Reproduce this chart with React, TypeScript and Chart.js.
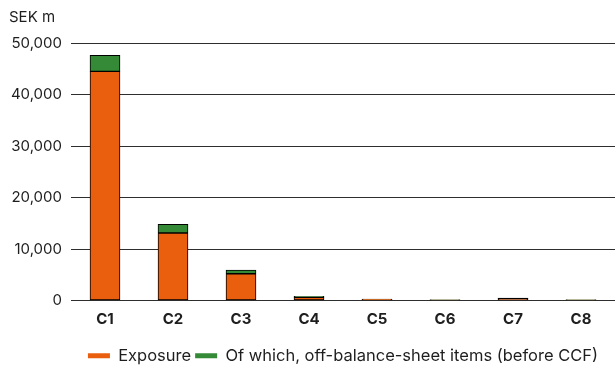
import React, { useEffect, useRef } from "react";
import { Chart, registerables } from "chart.js";

Chart.register(...registerables);

const categories = ["C1", "C2", "C3", "C4", "C5", "C6", "C7", "C8"];
const exposure = [44500, 13100, 5200, 600, 220, 110, 400, 110];
const offBalance = [3100, 1700, 700, 200, 60, 30, 50, 30];
const yTicks = [0, 10000, 20000, 30000, 40000, 50000];
const unitLabel = "SEK m";

const ORANGE = "#EA5F0E";
const GREEN = "#348A37";
const TEXT = "#1e1e1e";
const FONT = "Inter, 'Noto Sans', sans-serif";

const unitPlugin = {
  id: "unitLabel",
  afterDraw(chart: any) {
    const ctx = chart.ctx;
    ctx.save();
    ctx.font = `15px ${FONT}`;
    ctx.fillStyle = TEXT;
    ctx.textAlign = "left";
    ctx.textBaseline = "middle";
    ctx.fillText(unitLabel, 9, 17);
    ctx.restore();
  },
};

export default function App() {
  const ref = useRef<HTMLCanvasElement | null>(null);

  useEffect(() => {
    document.body.style.margin = "0";
    const canvas = ref.current;
    if (!canvas) return;
    const chart = new Chart(canvas, {
      type: "bar",
      data: {
        labels: categories,
        datasets: [
          {
            label: "Exposure",
            data: exposure,
            backgroundColor: ORANGE,
            borderColor: "#000",
            borderWidth: 1,
            borderSkipped: false,
            barThickness: 30,
          },
          {
            label: "Of which, off-balance-sheet items (before CCF)",
            data: offBalance,
            backgroundColor: GREEN,
            borderColor: "#000",
            borderWidth: 1,
            borderSkipped: false,
            barThickness: 30,
          },
        ],
      },
      options: {
        responsive: false,
        animation: false,
        layout: { padding: { top: 43, left: 0, right: 1, bottom: -4 } },
        plugins: {
          legend: {
            position: "bottom",
            fullSize: false,
            labels: {
              boxWidth: 22,
              boxHeight: 5,
              padding: 4,
              color: TEXT,
              font: { family: FONT, size: 16.5 },
              generateLabels(chart: any) {
                return chart.data.datasets.map((ds: any, i: number) => ({
                  text: ds.label,
                  fillStyle: ds.backgroundColor,
                  strokeStyle: ds.backgroundColor,
                  lineWidth: 0,
                  hidden: false,
                  datasetIndex: i,
                  fontColor: TEXT,
                }));
              },
            },
          },
          tooltip: { enabled: false },
        },
        scales: {
          x: {
            stacked: true,
            grid: { display: false },
            border: { display: false },
            ticks: {
              color: TEXT,
              font: { family: FONT, size: 15, weight: "bold" },
              padding: 2,
            },
            afterFit(axis: any) {
              axis.height += 13;
            },
          },
          y: {
            stacked: true,
            min: yTicks[0],
            max: yTicks[yTicks.length - 1],
            afterBuildTicks(axis: any) {
              axis.ticks = yTicks.map((v) => ({ value: v }));
            },
            afterFit(axis: any) {
              axis.width = 71;
            },
            grid: { color: "#2e2e2e", lineWidth: 1, drawTicks: false },
            border: { display: false },
            ticks: {
              color: TEXT,
              font: { family: FONT, size: 15 },
              padding: 9,
              callback: (v: any) => Number(v).toLocaleString("en-US"),
            },
          },
        },
      },
      plugins: [unitPlugin],
    });
    return () => chart.destroy();
  }, []);

  return <canvas ref={ref} width={616} height={370} />;
}
